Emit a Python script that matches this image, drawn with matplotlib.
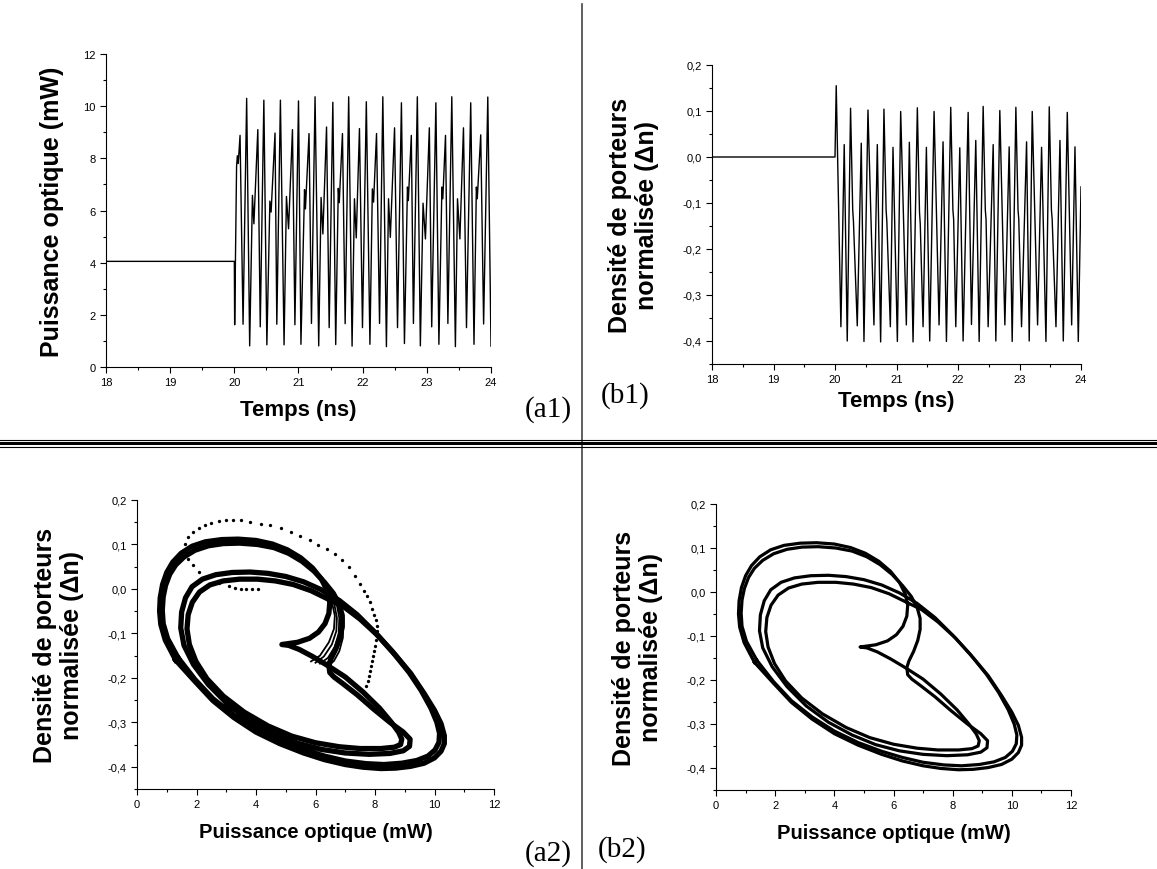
import numpy as np
import matplotlib.pyplot as plt
from matplotlib.lines import Line2D
from matplotlib.ticker import MultipleLocator, FuncFormatter

plt.rcParams['font.family'] = ['Liberation Sans', 'DejaVu Sans']

# (a1) puissance optique (mW) en fonction du temps (ns)
t_a1 = [18.0, 20.0, 20.005, 20.035, 20.047, 20.061, 20.089,
        20.136, 20.192, 20.239, 20.282, 20.305, 20.366, 20.404,
        20.460, 20.507, 20.554, 20.573, 20.634, 20.662,
        20.718, 20.775, 20.812, 20.845, 20.906, 20.944,
        21.000, 21.038, 21.094, 21.108, 21.164, 21.202,
        21.258, 21.315, 21.352, 21.380, 21.437, 21.478,
        21.535, 21.580, 21.620, 21.635, 21.685, 21.727,
        21.782, 21.835, 21.872, 21.900, 21.950, 21.997,
        22.057, 22.113, 22.151, 22.170, 22.216, 22.263,
        22.314, 22.370, 22.403, 22.431, 22.497, 22.543,
        22.604, 22.651, 22.698, 22.712, 22.758, 22.791,
        22.852, 22.899, 22.941, 22.978, 23.039, 23.076,
        23.141, 23.188, 23.235, 23.249, 23.291, 23.328,
        23.389, 23.445, 23.478, 23.515, 23.571, 23.618,
        23.684, 23.735, 23.772, 23.786, 23.840, 23.885,
        23.950, 24.0]
P_a1 = [4.05, 4.05, 1.62, 7.7, 8.1, 7.8, 8.88,
        1.64, 10.3, 0.81, 6.58, 5.49, 9.1, 1.54,
        10.23, 0.85, 6.36, 5.94, 8.97, 1.64,
        10.23, 0.85, 6.54, 5.3, 9.1, 1.62,
        10.2, 0.87, 6.8, 6.06, 8.95, 1.67,
        10.36, 0.81, 6.5, 5.1, 9.2, 1.51,
        10.15, 0.86, 6.85, 6.3, 8.95, 1.66,
        10.36, 0.8, 6.45, 4.95, 9.14, 1.51,
        10.17, 0.87, 6.83, 6.32, 8.95, 1.67,
        10.36, 0.78, 6.45, 4.97, 9.17, 1.51,
        10.13, 0.9, 6.9, 6.38, 8.88, 1.67,
        10.36, 0.81, 6.28, 4.91, 9.17, 1.54,
        10.13, 0.87, 6.9, 6.45, 8.88, 1.67,
        10.36, 0.78, 6.45, 4.91, 9.17, 1.51,
        10.13, 0.87, 6.9, 6.45, 8.9, 1.65,
        10.35, 0.8]

# (b1) densite de porteurs normalisee en fonction du temps (ns)
t_b1 = [18.0, 20.0, 20.020, 20.096, 20.150, 20.199,
        20.253, 20.288, 20.300, 20.362, 20.427, 20.471,
        20.536, 20.633, 20.688, 20.742,
        20.796, 20.831, 20.843, 20.900, 20.943, 21.014,
        21.068, 21.160, 21.209, 21.269,
        21.339, 21.374, 21.386, 21.432, 21.486, 21.540,
        21.611, 21.692, 21.757, 21.812,
        21.882, 21.917, 21.929, 21.964, 22.029, 22.083,
        22.165, 22.219, 22.289, 22.344,
        22.409, 22.444, 22.456, 22.490, 22.572, 22.615,
        22.680, 22.762, 22.832, 22.881,
        22.941, 22.976, 22.988, 23.033, 23.115, 23.158,
        23.207, 23.294, 23.359, 23.430,
        23.484, 23.519, 23.531, 23.593, 23.658, 23.712,
        23.777, 23.848, 23.902, 23.956, 24.0]
n_b1 = [0.0, 0.0, 0.155, -0.369, 0.027, -0.400,
        0.106, -0.115, -0.140, -0.367, 0.030, -0.401,
        0.102, -0.365, 0.027, -0.402,
        0.104, -0.115, -0.140, -0.369, 0.021, -0.401,
        0.099, -0.365, 0.032, -0.402,
        0.107, -0.120, -0.145, -0.369, 0.021, -0.400,
        0.099, -0.365, 0.033, -0.401,
        0.108, -0.115, -0.135, -0.369, 0.020, -0.400,
        0.097, -0.364, 0.036, -0.401,
        0.110, -0.115, -0.135, -0.369, 0.027, -0.400,
        0.101, -0.365, 0.022, -0.401,
        0.108, -0.115, -0.135, -0.369, 0.033, -0.400,
        0.099, -0.365, 0.021, -0.401,
        0.109, -0.115, -0.135, -0.369, 0.036, -0.400,
        0.097, -0.365, 0.022, -0.401, -0.065]

# portrait de phase : orbite 1 (variante cuspide)
orb1_P = [1.30, 0.95, 0.80, 0.76, 0.78, 0.86, 1.00, 1.20, 1.48, 1.85,
          2.30, 2.85, 3.40, 4.00, 4.55, 5.05, 5.50, 5.90, 6.20, 6.40,
          6.48, 6.45, 6.32, 6.10, 5.80, 5.40, 4.87,
          5.10, 5.45, 5.90, 6.40, 7.00, 7.60, 8.15, 8.55, 8.80, 8.90,
          8.86, 8.65, 8.20, 7.50, 6.80, 6.00, 5.20, 4.40, 3.60, 2.90,
          2.35, 1.98, 1.76, 1.68, 1.72, 1.86, 2.10, 2.45, 2.90, 3.45,
          4.05, 4.65, 5.25, 5.85, 6.40, 6.95, 7.50, 8.10, 8.70, 9.20,
          9.65, 10.00, 10.22, 10.33, 10.33, 10.22, 10.00, 9.65, 9.20, 8.70,
          8.20, 7.60, 7.00, 6.30, 5.60, 4.80, 4.00, 3.25, 2.55, 1.95, 1.30]
orb1_n = [-0.160, -0.115, -0.080, -0.050, -0.020, 0.010, 0.037, 0.060, 0.080, 0.096,
          0.106, 0.111, 0.112, 0.109, 0.101, 0.088, 0.070, 0.047, 0.022, -0.005,
          -0.030, -0.055, -0.078, -0.097, -0.111, -0.120, -0.125,
          -0.127, -0.136, -0.152, -0.172, -0.198, -0.232, -0.268, -0.300, -0.323, -0.338,
          -0.350, -0.356, -0.359, -0.359, -0.355, -0.346, -0.331, -0.308, -0.277, -0.241,
          -0.202, -0.163, -0.125, -0.090, -0.058, -0.030, -0.007, 0.009, 0.018, 0.022,
          0.022, 0.018, 0.010, -0.004, -0.022, -0.040, -0.068, -0.105, -0.150, -0.190,
          -0.235, -0.273, -0.303, -0.330, -0.348, -0.365, -0.380, -0.392, -0.399, -0.403,
          -0.404, -0.401, -0.395, -0.384, -0.369, -0.348, -0.322, -0.289, -0.251, -0.208, -0.160]

# portrait de phase : orbite 2 (variante creux)
orb2_P = [1.38, 1.03, 0.88, 0.85, 0.88, 0.96, 1.10, 1.30, 1.58, 1.95,
          2.40, 2.90, 3.45, 4.05, 4.60, 5.10, 5.55, 5.95, 6.30, 6.60,
          6.80, 6.90, 6.90, 6.82, 6.68, 6.52, 6.45, 6.48, 6.62, 6.90,
          7.40, 7.95, 8.50, 8.95, 9.18, 9.16, 8.95, 8.50, 7.80, 7.00,
          6.20, 5.40, 4.60, 3.80, 3.05, 2.40, 1.90, 1.58, 1.47, 1.50,
          1.63, 1.85, 2.20, 2.65, 3.20, 3.80, 4.40, 5.00, 5.60, 6.20,
          6.80, 7.40, 8.00, 8.60, 9.15, 9.55, 9.88, 10.08, 10.17, 10.15,
          10.02, 9.78, 9.40, 8.90, 8.30, 7.70, 7.00, 6.30, 5.60, 4.80,
          4.00, 3.25, 2.55, 1.95, 1.38]
orb2_n = [-0.155, -0.112, -0.078, -0.048, -0.018, 0.008, 0.033, 0.054, 0.072, 0.087,
          0.097, 0.102, 0.103, 0.100, 0.093, 0.080, 0.062, 0.040, 0.015, -0.010,
          -0.035, -0.060, -0.085, -0.110, -0.135, -0.157, -0.172, -0.188, -0.198, -0.212,
          -0.238, -0.270, -0.300, -0.322, -0.338, -0.354, -0.364, -0.370, -0.372, -0.369,
          -0.361, -0.347, -0.325, -0.296, -0.259, -0.215, -0.170, -0.127, -0.088, -0.052,
          -0.020, 0.005, 0.022, 0.032, 0.037, 0.038, 0.035, 0.028, 0.016, -0.002,
          -0.026, -0.058, -0.098, -0.142, -0.188, -0.228, -0.268, -0.300, -0.325, -0.345,
          -0.362, -0.376, -0.386, -0.392, -0.395, -0.393, -0.387, -0.376, -0.362, -0.342,
          -0.316, -0.284, -0.247, -0.204, -0.155]

# (a2) brins intermediaires de l'eventail
fan_P = [[6.55, 6.65, 6.62, 6.45, 6.15, 5.85],
         [6.62, 6.72, 6.70, 6.55, 6.28, 6.00],
         [6.70, 6.80, 6.78, 6.65, 6.42, 6.15],
         [6.78, 6.88, 6.86, 6.74, 6.55, 6.30],
         [6.86, 6.94, 6.92, 6.80, 6.62, 6.45]]
fan_n = [[-0.030, -0.060, -0.090, -0.120, -0.150, -0.163],
         [-0.030, -0.065, -0.095, -0.125, -0.152, -0.166],
         [-0.030, -0.065, -0.100, -0.130, -0.155, -0.168],
         [-0.030, -0.068, -0.105, -0.135, -0.158, -0.170],
         [-0.030, -0.070, -0.110, -0.140, -0.162, -0.172]]

# (a2) regime transitoire (points)
trans_P = [4.07, 3.87, 3.66, 3.51, 3.31, 3.10, 2.75, 2.34, 2.09, 1.88, 1.73,
           1.63, 1.63, 1.73, 1.88, 2.09, 2.29, 2.49, 2.75, 3.00, 3.23, 3.51,
           3.81, 4.17, 4.48, 4.83, 5.17, 5.49, 5.82, 6.10, 6.39, 6.64, 6.90,
           7.12, 7.32, 7.51, 7.63, 7.73, 7.83, 7.91, 7.98, 8.03, 8.06, 8.08,
           8.06, 8.03, 8.00, 7.97, 7.93, 7.90, 7.86, 7.83, 7.79, 7.76, 7.71]
trans_n = [0.000, 0.000, 0.000, 0.000, 0.002, 0.006, 0.014, 0.026, 0.038, 0.053, 0.068,
           0.084, 0.101, 0.116, 0.128, 0.137, 0.143, 0.148, 0.152, 0.154, 0.155, 0.154,
           0.150, 0.146, 0.143, 0.137, 0.129, 0.120, 0.111, 0.099, 0.090, 0.079, 0.064,
           0.049, 0.030, 0.011, -0.004, -0.017, -0.030, -0.045, -0.059, -0.071, -0.083, -0.094,
           -0.105, -0.116, -0.128, -0.139, -0.150, -0.161, -0.173, -0.184, -0.195, -0.207, -0.218]


def virgule(v, pos):
    return f"{v:.1f}".replace('.', ',')


def style_axes(ax):
    ax.spines['top'].set_visible(False)
    ax.spines['right'].set_visible(False)
    ax.tick_params(which='both', direction='out', labelsize=8, width=0.8)
    ax.tick_params(which='major', length=4)
    ax.tick_params(which='minor', length=2.5)


def axes_phase(ax):
    ax.set_xlim(0, 12)
    ax.set_ylim(-0.45, 0.2)
    ax.xaxis.set_major_locator(MultipleLocator(2))
    ax.xaxis.set_minor_locator(MultipleLocator(1))
    ax.yaxis.set_major_locator(MultipleLocator(0.1))
    ax.yaxis.set_minor_locator(MultipleLocator(0.05))
    ax.yaxis.set_major_formatter(FuncFormatter(virgule))
    style_axes(ax)


fig = plt.figure(figsize=(11.57, 8.70), dpi=100)

ylab = dict(fontsize=18, fontweight='bold', linespacing=1.15)
xlab_t = dict(fontsize=16, fontweight='bold')
xlab_p = dict(fontsize=14.5, fontweight='bold')
ylab_dn = "Densité de porteurs\nnormalisée (Δn)"

# (a1)
ax = fig.add_axes([106/1157, 1-368/870, 385/1157, 313/870])
ax.plot(t_a1, P_a1, color='black', lw=1.0)
ax.set_xlim(18, 24)
ax.set_ylim(0, 12)
ax.xaxis.set_major_locator(MultipleLocator(1))
ax.xaxis.set_minor_locator(MultipleLocator(0.5))
ax.yaxis.set_major_locator(MultipleLocator(2))
ax.yaxis.set_minor_locator(MultipleLocator(1))
style_axes(ax)
ax.set_xlabel("Temps (ns)", labelpad=8, **xlab_t)
ax.set_ylabel("Puissance optique (mW)", labelpad=14, **ylab)

# (b1)
ax = fig.add_axes([712/1157, 1-365/870, 369/1157, 299/870])
ax.plot(t_b1, n_b1, color='black', lw=1.0)
ax.set_xlim(18, 24)
ax.set_ylim(-0.45, 0.2)
ax.xaxis.set_major_locator(MultipleLocator(1))
ax.xaxis.set_minor_locator(MultipleLocator(0.5))
ax.yaxis.set_major_locator(MultipleLocator(0.1))
ax.yaxis.set_minor_locator(MultipleLocator(0.05))
ax.yaxis.set_major_formatter(FuncFormatter(virgule))
style_axes(ax)
ax.set_xlabel("Temps (ns)", labelpad=4, **xlab_t)
ax.set_ylabel(ylab_dn, labelpad=17, **ylab)

# (a2)
ax = fig.add_axes([137/1157, 1-790/870, 357/1157, 289/870])
for P, n in [(orb1_P, orb1_n), (orb2_P, orb2_n)]:
    ax.plot(P, n, color='black', lw=3.8, solid_joinstyle='round')
for P, n in zip(fan_P, fan_n):
    ax.plot(P, n, color='black', lw=1.3)
ax.plot(trans_P, trans_n, 'o', color='black', ms=2.4, mew=0)
axes_phase(ax)
ax.set_xlabel("Puissance optique (mW)", labelpad=9, **xlab_p)
ax.set_ylabel(ylab_dn, labelpad=17, **ylab)

# (b2)
ax = fig.add_axes([716/1157, 1-791/870, 355/1157, 286/870])
for P, n in [(orb1_P, orb1_n), (orb2_P, orb2_n)]:
    ax.plot(P, n, color='black', lw=2.3, solid_joinstyle='round')
axes_phase(ax)
ax.set_xlabel("Puissance optique (mW)", labelpad=9, **xlab_p)
ax.set_ylabel(ylab_dn, labelpad=17, **ylab)

# etiquettes des panneaux
tag = dict(fontsize=21, family='Liberation Serif', ha='center', va='center')
fig.text(548/1157, 1-410/870, "(a1)", **tag)
fig.text(625/1157, 1-396/870, "(b1)", **tag)
fig.text(548/1157, 1-854/870, "(a2)", **tag)
fig.text(622/1157, 1-850/870, "(b2)", **tag)

# separateurs
fig.add_artist(Line2D([582/1157, 582/1157], [0, 1-5/870], transform=fig.transFigure,
                      color='#444444', lw=1.2))
for y, w in [(440.5, 0.8), (444.0, 2.2), (447.5, 0.8)]:
    fig.add_artist(Line2D([0, 1], [1-y/870, 1-y/870], transform=fig.transFigure,
                          color='black', lw=w))

fig.savefig("out.png", dpi=100)
